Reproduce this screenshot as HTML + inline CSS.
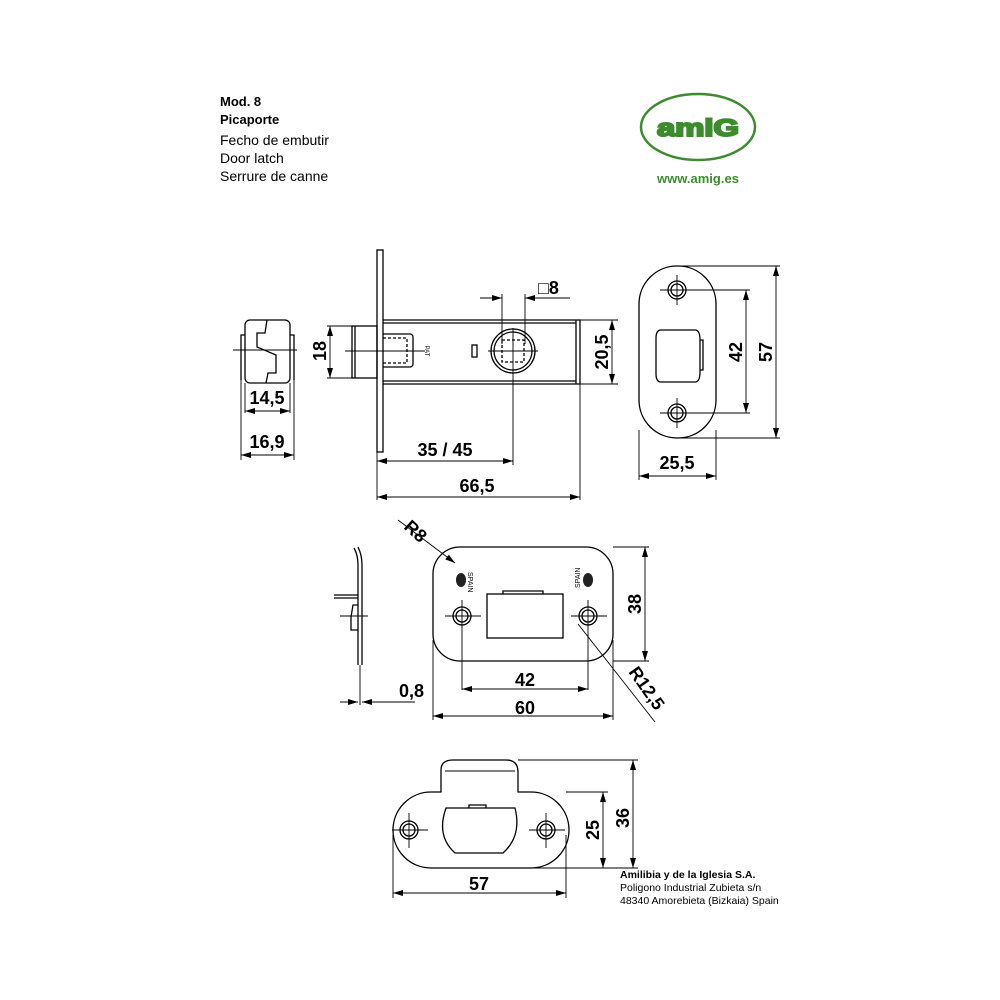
<!DOCTYPE html>
<html><head><meta charset="utf-8"><style>
html,body{margin:0;padding:0;background:#fff}
svg{display:block}
text{font-family:"Liberation Sans",Arial,sans-serif}
.d{font-weight:bold;font-size:18px}
</style></head><body>
<svg width="1000" height="1000" viewBox="0 0 1000 1000" xmlns="http://www.w3.org/2000/svg">
<defs>
<marker id="a" viewBox="0 0 10 6" refX="10" refY="3" markerWidth="10" markerHeight="6" orient="auto-start-reverse" markerUnits="userSpaceOnUse"><path d="M0,0L10,3L0,6z" fill="#000"/></marker>
</defs>
<g font-size="14">
<text x="220" y="106" font-weight="bold" font-size="13">Mod. 8</text>
<text x="220" y="124" font-weight="bold" font-size="13">Picaporte</text>
<text x="220" y="145">Fecho de embutir</text>
<text x="220" y="163">Door latch</text>
<text x="220" y="181">Serrure de canne</text>
</g>
<ellipse cx="698" cy="127" rx="57" ry="33" fill="none" stroke="#3c8c2e" stroke-width="2.5"/>
<text x="698" y="138" text-anchor="middle" font-weight="900" font-size="30" fill="#3c8c2e" stroke="#3c8c2e" stroke-width="2.5" textLength="82" lengthAdjust="spacingAndGlyphs" transform="translate(698,127) scale(1,0.8) translate(-698,-127)">amiG</text>
<text x="698" y="183" text-anchor="middle" font-weight="bold" font-size="13" fill="#3c8c2e">www.amig.es</text>

<g fill="none" stroke="#000" stroke-width="1.3">
<rect x="245" y="320" width="45" height="63" rx="5"/>
<path d="M245,335h-4v45M290,335h4v45"/>
<path d="M267,320l-2,13h-8v14l19,8v18h-8l-2,10"/>
<path d="M233,350h64" stroke-width="1"/>
<g stroke-width="0.9">
<path d="M245,383v30M290,383v30M241,380v80M294,380v80"/>
<path d="M245,411h45" marker-start="url(#a)" marker-end="url(#a)"/>
<path d="M241,455h53" marker-start="url(#a)" marker-end="url(#a)"/>
</g>
<rect x="377" y="250" width="6" height="202"/>
<path d="M383,320h197v64h-197M383,323h193M383,381h193M576,320v64"/>
<rect x="352" y="326" width="25" height="52"/>
<path d="M355,326v52"/>
<path d="M383,334h27a3,3 0 0 1 3,3v27a3,3 0 0 1 -3,3h-27"/>
<path d="M383,338h24v25h-24" stroke-dasharray="3,2"/>
<rect x="472" y="345" width="5" height="12"/>
<circle cx="513" cy="351" r="22"/><circle cx="513" cy="351" r="19"/>
<rect x="502" y="340" width="22" height="22" stroke-dasharray="3,2"/>
<g stroke-width="0.9">
<path d="M345,351h80M488,351h50M513,328v137"/>
<path d="M502,294v50M525,294v50"/>
<path d="M480,298h22" marker-end="url(#a)"/><path d="M570,298h-45" marker-end="url(#a)"/>
<path d="M327,326h25M327,378h25"/>
<path d="M330,326v52" marker-start="url(#a)" marker-end="url(#a)"/>
<path d="M580,320h38M580,384h38"/>
<path d="M612,320v64" marker-start="url(#a)" marker-end="url(#a)"/>
<path d="M377,452v48M580,384v116"/>
<path d="M377,461h136" marker-start="url(#a)" marker-end="url(#a)"/>
<path d="M377,497h203" marker-start="url(#a)" marker-end="url(#a)"/>
</g>
<rect x="639" y="266" width="77" height="172" rx="38"/>
<circle cx="677" cy="290" r="9"/><circle cx="677" cy="290" r="6"/>
<circle cx="677" cy="413" r="9"/><circle cx="677" cy="413" r="6"/>
<path d="M661,330h34q5,0 5,10v32q0,10 -5,10h-34q-5,0 -5,-8v-36q0,-8 5,-8z"/>
<path d="M700,340h3v30h-3"/>
<g stroke-width="0.9">
<path d="M660,290h30M677,275v30M660,413h30M677,398v30"/>
<path d="M677,266h103M677,438h103M690,290h60M690,413h60"/>
<path d="M746,290v123" marker-start="url(#a)" marker-end="url(#a)"/>
<path d="M776,266v172" marker-start="url(#a)" marker-end="url(#a)"/>
<path d="M639,430v50M716,430v50"/>
<path d="M639,476h77" marker-start="url(#a)" marker-end="url(#a)"/>
</g>
<path d="M358,665v-100q0,-10 -4,-17M362,665v-100q0,-10 -4,-18"/>
<path d="M334,595h24M334,598h24"/>
<path d="M358,605h-5l-2,12v13h7"/>
<g stroke-width="0.9">
<path d="M340,616h28M360,665v40"/>
<path d="M340,702h18" marker-end="url(#a)"/><path d="M415,702h-53" marker-end="url(#a)"/>
</g>
<rect x="433" y="547" width="180" height="114" rx="27"/>
<circle cx="462" cy="616" r="9"/><circle cx="462" cy="616" r="6"/>
<circle cx="588" cy="616" r="9"/><circle cx="588" cy="616" r="6"/>
<rect x="487" y="594" width="76" height="44"/>
<path d="M503,594v-3h40v3"/>
<g stroke-width="0.9">
<path d="M445,616h36M462,600v90M571,616h36M588,600v90"/>
<path d="M613,547h36M613,661h36"/>
<path d="M645,547v114" marker-start="url(#a)" marker-end="url(#a)"/>
<path d="M433,640v80M613,640v80"/>
<path d="M462,689h126" marker-start="url(#a)" marker-end="url(#a)"/>
<path d="M433,716h180" marker-start="url(#a)" marker-end="url(#a)"/>
<path d="M398,520L455,563" marker-end="url(#a)"/>
<path d="M578,624L655,722"/>
</g>
<path d="M441,792v-22q0,-10 12,-10h53q12,0 12,12v20h13a38,38 0 0 1 0,76h-100a38,38 0 0 1 0,-76z"/>
<path d="M445,771h70" stroke-width="0.9"/>
<circle cx="409" cy="830" r="9"/><circle cx="409" cy="830" r="6"/>
<circle cx="546" cy="830" r="9"/><circle cx="546" cy="830" r="6"/>
<path d="M446,808h69q7,28 -12,45h-48q-19,-17 -9,-45z"/>
<path d="M469,808v-3h17v3"/>
<g stroke-width="0.9">
<path d="M392,830h36M409,813v35M529,830h36M546,813v35"/>
<path d="M518,760h120M566,792h42M520,868h118"/>
<path d="M603,792v76" marker-start="url(#a)" marker-end="url(#a)"/>
<path d="M633,760v108" marker-start="url(#a)" marker-end="url(#a)"/>
<path d="M393,835v63M566,835v63"/>
<path d="M393,893h173" marker-start="url(#a)" marker-end="url(#a)"/>
</g>
</g>
<g fill="#222">
<ellipse cx="461" cy="580" rx="5" ry="7"/><ellipse cx="588" cy="580" rx="5" ry="7"/>
</g>
<text transform="translate(468,572) rotate(90)" font-size="7">SPAIN</text>
<text transform="translate(580,588) rotate(-90)" font-size="7">SPAIN</text>
<text transform="translate(425,351) rotate(90)" font-size="6" text-anchor="middle">PAT</text>
<g class="d">
<text x="267" y="404" text-anchor="middle">14,5</text>
<text x="267" y="448" text-anchor="middle">16,9</text>
<text transform="translate(326,351) rotate(-90)" text-anchor="middle">18</text>
<text transform="translate(608,352) rotate(-90)" text-anchor="middle">20,5</text>
<text x="445" y="456" text-anchor="middle">35 / 45</text>
<text x="477" y="492" text-anchor="middle">66,5</text>
<text x="538" y="294">□8</text>
<text transform="translate(742,352) rotate(-90)" text-anchor="middle">42</text>
<text transform="translate(772,352) rotate(-90)" text-anchor="middle">57</text>
<text x="677" y="469" text-anchor="middle">25,5</text>
<text transform="translate(403,528) rotate(42)">R8</text>
<text transform="translate(641,604) rotate(-90)" text-anchor="middle">38</text>
<text x="525" y="686" text-anchor="middle">42</text>
<text x="525" y="714" text-anchor="middle">60</text>
<text x="399" y="697">0,8</text>
<text transform="translate(628,672) rotate(55)">R12,5</text>
<text transform="translate(599,830) rotate(-90)" text-anchor="middle">25</text>
<text transform="translate(629,818) rotate(-90)" text-anchor="middle">36</text>
<text x="479" y="890" text-anchor="middle">57</text>
</g>
<g font-size="10.5">
<text x="620" y="878" font-weight="bold">Amilibia y de la Iglesia S.A.</text>
<text x="620" y="891">Poligono Industrial Zubieta s/n</text>
<text x="620" y="904">48340 Amorebieta (Bizkaia) Spain</text>
</g>
</svg>
</body></html>
